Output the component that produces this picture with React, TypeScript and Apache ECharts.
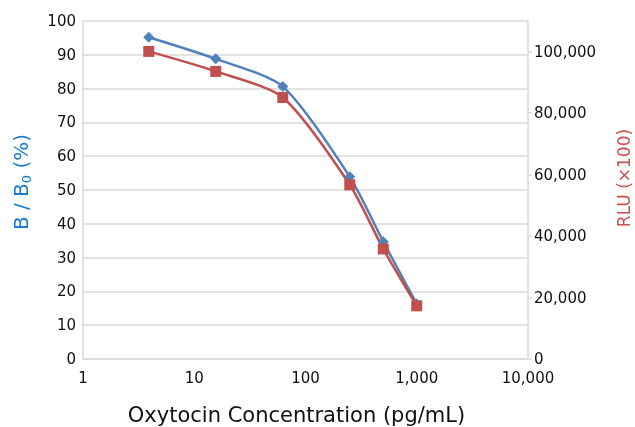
import React, { useEffect, useRef } from "react";
import * as echarts from "echarts";

const concentrations = [3.9, 15.6, 62.5, 250, 500, 1000];
const bOverB0 = [95.2, 88.8, 80.6, 53.9, 34.7, 16.3];
const rlu = [100100, 93600, 85100, 56700, 35800, 17300];

const fmt = (v: number) => Math.round(v).toLocaleString("en-US");

export default function App() {
  const ref = useRef<HTMLDivElement>(null);
  useEffect(() => {
    document.body.style.margin = "0";
    document.documentElement.style.overflow = "hidden";
    document.body.style.overflow = "hidden";
    const chart = echarts.init(ref.current!, null, { renderer: "svg", width: 635, height: 427 });
    const font = "DejaVu Sans";
    const gridColor = "#d9d9d9";
    chart.setOption({
      animation: false,
      textStyle: { fontFamily: font },
      grid: { left: 83, right: 107, top: 21, bottom: 68, containLabel: false, outerBoundsMode: "none" },
      xAxis: {
        type: "log",
        logBase: 10,
        min: 1,
        max: 10000,
        name: "Oxytocin Concentration (pg/mL)",
        nameLocation: "middle",
        nameGap: 45,
        nameTextStyle: { fontSize: 21, color: "#111", fontFamily: font, padding: [0, 18, 0, 0] },
        axisLine: { show: true, lineStyle: { color: gridColor, width: 1.5 } },
        axisTick: { show: false },
        splitLine: { show: false },
        minorTick: { show: false },
        axisLabel: { fontSize: 15, color: "#111", margin: 11, formatter: (v: number) => fmt(v) },
      },
      yAxis: [
        {
          type: "value",
          min: 0,
          max: 100,
          interval: 10,
          name: "{a|B / B}{s|0}{a| (%)}",
          nameLocation: "middle",
          nameRotate: 90,
          nameGap: 50,
          nameTextStyle: {
            padding: [0, 0, 0, 16],
            rich: {
              a: { fontSize: 20, color: "#1a7ccf", fontFamily: font },
              s: { fontSize: 13, color: "#1a7ccf", fontFamily: font, verticalAlign: "bottom", padding: [11, 0, 0, 0] },
            },
          },
          axisLine: { show: true, lineStyle: { color: gridColor, width: 1.5 } },
          axisTick: { show: false },
          splitLine: { show: true, lineStyle: { color: gridColor, width: 1.5 } },
          axisLabel: { fontSize: 15, color: "#111", margin: 7 },
        },
        {
          type: "value",
          min: 0,
          max: 110000,
          interval: 20000,
          position: "right",
          name: "RLU (×100)",
          nameLocation: "middle",
          nameRotate: 90,
          nameGap: 87,
          nameTextStyle: { fontSize: 17, color: "#c9504d", fontFamily: font, padding: [0, 0, 0, 24] },
          axisLine: { show: true, lineStyle: { color: gridColor, width: 1.5 } },
          axisTick: { show: true, length: 4, lineStyle: { color: gridColor, width: 1.5 } },
          splitLine: { show: false },
          axisLabel: {
            fontSize: 15,
            color: "#111",
            margin: 6,
            showMaxLabel: false,
            formatter: (v: number) => (v > 100000 ? "" : fmt(v)),
          },
        },
      ],
      series: [
        {
          type: "line",
          name: "B/B0",
          yAxisIndex: 0,
          data: concentrations.map((c, i) => [c, bOverB0[i]]),
          smooth: 0.25,
          symbol: "diamond",
          symbolSize: 11,
          lineStyle: { color: "#4f81bd", width: 2.5 },
          itemStyle: { color: "#4f81bd" },
        },
        {
          type: "line",
          name: "RLU",
          yAxisIndex: 1,
          data: concentrations.map((c, i) => [c, rlu[i]]),
          smooth: 0.25,
          symbol: "rect",
          symbolSize: 11,
          lineStyle: { color: "#c0504d", width: 2.5 },
          itemStyle: { color: "#c0504d" },
        },
      ],
    });
    return () => chart.dispose();
  }, []);
  return (
    <div
      ref={ref}
      style={{ position: "fixed", left: 0, top: 0, width: 635, height: 427, overflow: "hidden" }}
    />
  );
}
